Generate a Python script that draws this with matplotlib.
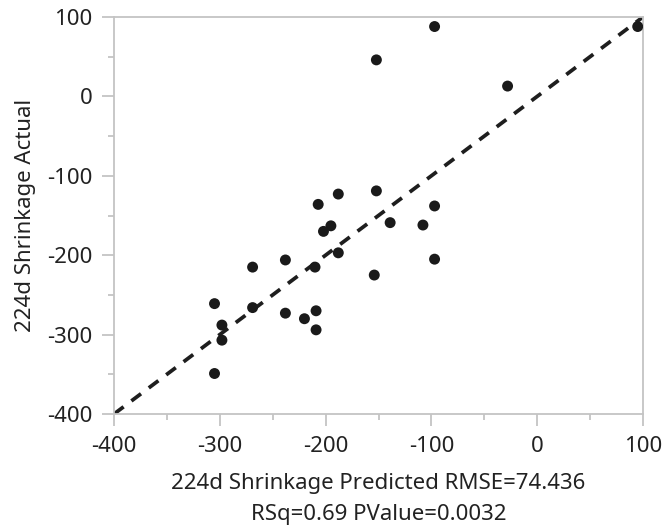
import matplotlib
matplotlib.use("Agg")
import matplotlib.pyplot as plt
from matplotlib.ticker import MultipleLocator

plt.rcParams['font.family'] = ['Noto Sans', 'DejaVu Sans']
plt.rcParams['axes.unicode_minus'] = False

predicted = [-97, 95, -152, -28, -152, -188, -207, -97, -139, -108, -195, -202,
             -188, -97, -238, -269, -210, -154, -305, -269, -209, -238, -220,
             -298, -209, -298, -305]
actual = [88, 88, 46, 13, -119, -123, -136, -138, -159, -162, -163, -170,
          -197, -205, -206, -215, -215, -225, -261, -266, -270, -273, -280,
          -288, -294, -307, -349]
fit_x = [-400, 100]
fit_y = [-400, 100]
x_ticks = [-400, -300, -200, -100, 0, 100]
y_ticks = [-400, -300, -200, -100, 0, 100]

fig = plt.figure(figsize=(6.64, 5.26), dpi=100)
ax = fig.add_axes([114/664, 1-414/526, 529/664, 397/526])

ax.plot(fit_x, fit_y, linestyle=(0, (3.2, 2.6)), color='#1e1e1e', lw=2.7, zorder=2)
ax.scatter(predicted, actual, s=62, color='#1a1a1a', edgecolors='none', zorder=3)

ax.set_xlim(-400, 100)
ax.set_ylim(-400, 100)
ax.set_xticks(x_ticks)
ax.set_yticks(y_ticks)
ax.xaxis.set_minor_locator(MultipleLocator(50))
ax.yaxis.set_minor_locator(MultipleLocator(50))

frame_c = '#c4c4c4'
for sp in ax.spines.values():
    sp.set_color(frame_c)
    sp.set_linewidth(1.3)
ax.tick_params(which='major', length=8.6, width=1.3, color=frame_c,
               labelsize=16, labelcolor='#222222', pad=7)
ax.tick_params(which='minor', length=4.3, width=1.3, color=frame_c)

ax.set_xlabel('224d Shrinkage Predicted RMSE=74.436\nRSq=0.69 PValue=0.0032',
              fontsize=16, color='#222222', linespacing=1.58, labelpad=12)
ax.set_ylabel('224d Shrinkage Actual', fontsize=16, color='#222222', labelpad=8)

fig.savefig('out.png', dpi=100)
